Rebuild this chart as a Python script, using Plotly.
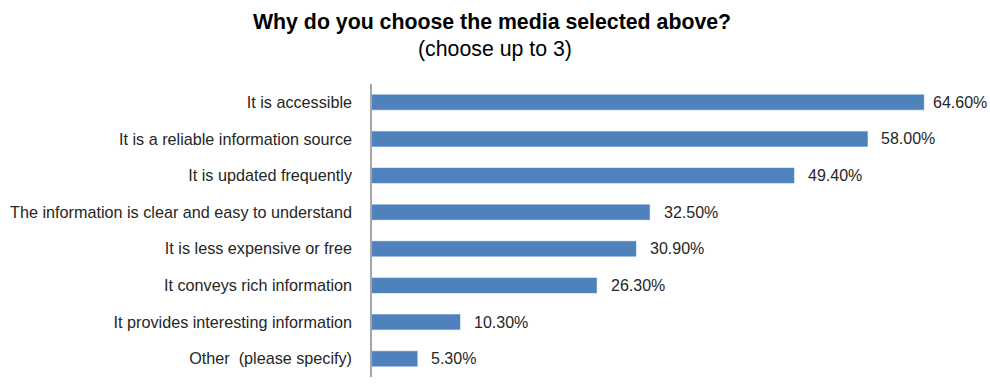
import plotly.graph_objects as go

categories = [
    "It is accessible",
    "It is a reliable information source",
    "It is updated frequently",
    "The information is clear and easy to understand",
    "It is less expensive or free",
    "It conveys rich information",
    "It provides interesting information",
    "Other  (please specify)",
]
values = [64.6, 58.0, 49.4, 32.5, 30.9, 26.3, 10.3, 5.3]
title_line1 = "Why do you choose the media selected above?"
title_line2 = "(choose up to 3)"

FONT = "Liberation Sans, Arial, sans-serif"

W, H = 990, 390
ML, MT, MR, MB = 372, 84, 20, 13
XMAX = 70
plot_w = W - ML - MR
plot_h = H - MT - MB
ppu = plot_w / XMAX

fig = go.Figure(
    go.Bar(
        x=values,
        y=categories,
        orientation="h",
        marker=dict(color="#4F81BD", line=dict(color="#5B8BC7", width=0.5)),
        width=0.41,
        hoverinfo="x+y",
    )
)

LABEL_W = 56
for c, v in zip(categories, values):
    # Excel-style: labels sit ~12px after the bar, pulled in if they would overflow
    shift = 12 if v * ppu + 12 + LABEL_W < plot_w + MR - 4 else 7
    fig.add_annotation(
        x=v, y=c, xref="x", yref="y",
        text=f"{v:.2f}%",
        showarrow=False,
        xanchor="left",
        xshift=shift,
        font=dict(family=FONT, size=16, color="#262626"),
    )

title_cx = (492 - ML) / plot_w
fig.add_annotation(
    x=title_cx, xref="paper", xanchor="center",
    y=1 + (MT - 22) / plot_h, yref="paper", yanchor="middle",
    text=f"<b>{title_line1}</b>", showarrow=False,
    font=dict(family=FONT, size=21.3, color="#000000"),
)
fig.add_annotation(
    x=(495 - ML) / plot_w, xref="paper", xanchor="center",
    y=1 + (MT - 49) / plot_h, yref="paper", yanchor="middle",
    text=title_line2, showarrow=False,
    font=dict(family=FONT, size=21.3, color="#000000"),
)

fig.update_layout(
    width=W,
    height=H,
    margin=dict(l=ML, r=MR, t=MT, b=MB),
    paper_bgcolor="white",
    plot_bgcolor="white",
    showlegend=False,
    font=dict(family=FONT, size=16, color="#262626"),
)
fig.update_xaxes(range=[0, XMAX], visible=False, showgrid=False, zeroline=False)
fig.update_yaxes(
    autorange="reversed",
    showline=True,
    linecolor="#A6A6A6",
    linewidth=1.5,
    ticks="",
    showgrid=False,
    automargin=False,
    ticklabelstandoff=15,
    tickfont=dict(family=FONT, size=16.2, color="#262626"),
)

fig.write_html(
    "out.html",
    config={"displayModeBar": False},
    post_script="document.body.style.margin='0';document.body.style.overflow='hidden';",
)
